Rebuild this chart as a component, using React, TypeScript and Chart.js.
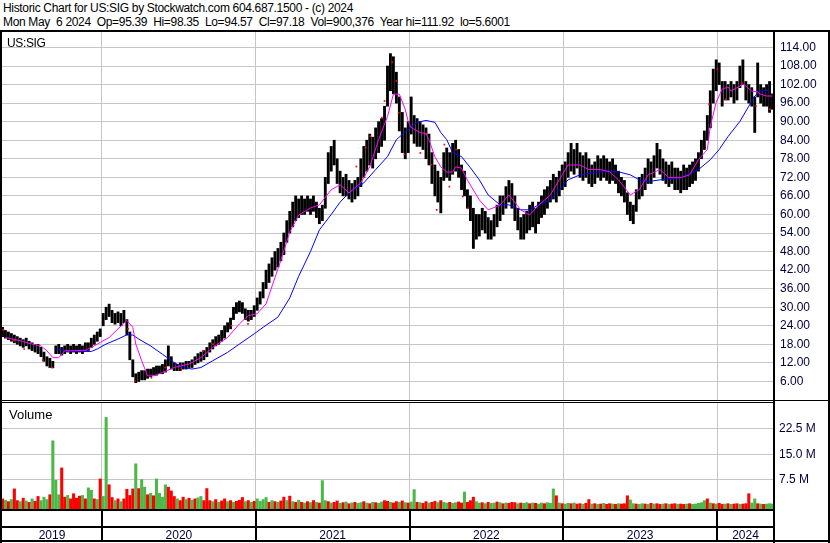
import React, { useEffect, useRef } from "react";
import { Chart, registerables } from "chart.js";

Chart.register(...registerables);

// ---------- time axis (decimal years) ----------
const PLOT_START = 2019.3496;
const PLOT_END = 2024.3707;
const FIRST_WEEK = 2019.3528;
const WEEK = 0.019262;
const yearBoundaries = [2020, 2021, 2022, 2023, 2024];
const yearLabels = ["2019", "2020", "2021", "2022", "2023", "2024"];

// ---------- axis ticks ----------
const priceTicks = [6, 12, 18, 24, 30, 36, 42, 48, 54, 60, 66, 72, 78, 84, 90, 96, 102, 108, 114];
const volumeTicks = [7.5, 15, 22.5];

// ---------- weekly price ranges (USD) ----------
const priceLow = [
  20.5, 20, 19.5, 19, 18.5, 18, 17.5, 17, 17.5, 16.5,
  16, 15.5, 15, 14, 12.5, 11, 10.5, 10.4, 15, 15,
  14.5, 15, 15.5, 15, 15.5, 15, 15.5, 15, 16, 16,
  17, 18, 19, 20.5, 24, 26, 27, 25, 24.5, 25,
  24, 25, 21, 13, 7.5, 5.6, 6, 6.5, 6.5, 7,
  7.5, 8, 8, 8.5, 8.5, 9, 11, 10, 9.5, 9.5,
  9.5, 10, 10, 10.5, 10.5, 11.5, 12, 12.5, 13, 14,
  15.5, 16.5, 17.5, 18, 19, 20, 22, 23, 26, 28,
  28.5, 28, 26, 25.5, 26, 27, 29, 31, 33, 36,
  38, 40, 42, 43, 45, 47, 51, 54, 56, 58,
  59, 60, 60, 61, 60, 61, 59, 57, 58, 62,
  70, 74, 76, 70, 67, 66, 66, 65, 64, 65,
  66, 69, 72, 74, 76, 75, 78, 80, 82, 84,
  95, 100, 99, 96, 87, 80, 78, 80, 86, 83,
  82, 82, 81, 78, 76, 70, 66, 64, 60.5, 71,
  72, 71, 73, 74, 72, 68, 66, 62, 58, 49,
  52, 53, 55, 54, 52, 52, 53, 56, 58, 60,
  62, 64, 62, 58, 55, 52, 52, 54, 55, 56,
  54, 57, 59, 60, 62, 64, 65, 64, 66, 68,
  69, 72, 74, 73, 75, 72, 71, 72, 70, 69,
  70, 72, 71, 72, 71, 70, 71, 70, 67, 66,
  64, 60, 58, 57, 61, 65, 66, 68, 70, 70,
  72, 75, 73, 71, 70, 69, 70, 68, 68, 67,
  68, 68, 69, 70, 71, 74, 78, 81, 84, 88,
  96, 100, 102, 95, 97, 97, 98, 96, 97, 101,
  102, 97, 96, 95, 86.5, 98, 96, 95, 95, 93,
  94,
];
const priceHigh = [
  23.5, 22.5, 22, 21.5, 21, 20.5, 20, 19.5, 20, 19,
  18.5, 18, 18, 17, 15.5, 14, 13.5, 12.5, 17.5, 18,
  17, 17.5, 18, 17.5, 18, 17.5, 18, 17.5, 18.5, 18.5,
  20, 21, 22, 23, 28, 30, 31, 29, 28, 28.5,
  28, 29, 26, 22, 13, 8.5, 9, 9.5, 9.5, 10,
  10, 10.5, 11, 11, 11.5, 13, 17.5, 14, 12, 11.5,
  12, 12, 12.5, 12.5, 13, 14, 15, 15.5, 16, 17,
  18.5, 19.5, 20.5, 21, 22.5, 24, 25, 26.5, 30, 31.5,
  32, 31.5, 29.5, 29, 29, 30.5, 33, 35, 38, 42,
  44, 46, 48, 49, 51, 54, 58, 61, 64, 66,
  65, 66, 65, 66, 65, 66, 64, 62, 63, 72,
  80, 82, 84, 78, 74, 72, 73, 71, 70, 71,
  72, 78, 82, 84, 86, 85, 88, 90, 91, 95,
  108, 112, 111, 106, 98, 93, 88, 90, 98, 92,
  91, 90, 89, 88, 86, 80, 76, 74, 72, 80,
  81.5, 80, 83, 84, 81, 76, 74, 68, 66, 62,
  60, 60, 62, 61, 59, 58, 60, 63, 66, 66,
  69, 71, 70, 66, 62, 59, 60, 61, 63, 64,
  62, 64, 66, 68, 69, 71, 73, 72, 74, 76,
  77, 80, 83, 81, 83, 80, 79, 80, 78, 76,
  77, 79, 78, 79, 78, 77, 78, 76, 74, 72,
  71, 67, 64, 63, 68, 72, 73, 75, 78, 77,
  79, 83, 81, 78, 77, 76, 77, 75, 75, 74,
  76, 75, 76, 77, 78, 80, 84, 87, 92, 100,
  107, 110, 109, 103, 103, 102, 103, 102, 103, 108,
  110, 103, 102, 101, 98, 109, 102, 101, 102, 103,
  99,
];

// ---------- red session markers (week index, price) ----------
const redMarkWeek = [
  0.3, 3.9, 7.3, 13.6, 16.8, 22.2, 27.8, 42.4, 44.7, 50.3, 55, 60.4, 67.7, 71.1, 77.3, 82.9,
  119.5, 122.6, 124.2, 128.1, 129, 131.6, 133, 133.8, 135.7, 141.1, 143.1, 144.8, 146.6, 149.2,
  150.9, 153.2, 155.4, 157.1, 238.6, 241.4, 244.2, 249.6, 254.4, 259.1,
];
const redMarkValue = [
  22.7, 19.2, 16.5, 12.9, 10.5, 15.9, 15.9, 23, 6.2, 7.2, 10.5, 10, 15.9, 18.1, 24, 24.6,
  75.5, 81.5, 85.3, 91.3, 96.7, 109.2, 103.2, 92.9, 79.4, 79.9, 86.1, 76.1, 61.5, 82.6,
  69, 81, 65.8, 62, 95.6, 107, 97.2, 102.7, 95, 94,
];

// ---------- moving averages (week index, value) ----------
const fastMaWeek = [
  1, 6, 9, 13, 15, 17, 19, 21, 23, 28, 30, 33, 36, 39, 42, 44, 45, 47, 49, 51,
  54, 58, 60, 63, 67, 71, 76, 80, 83, 86, 89, 94, 97, 100, 104, 107, 111, 114, 117, 121,
  124, 127, 130, 132, 134, 136, 137, 138, 141, 143, 144, 146, 148, 150, 152, 153, 155, 157, 158, 161,
  164, 168, 171, 175, 178, 181, 185, 188, 191, 195, 198, 202, 205, 208, 212, 215, 218, 222, 225, 229,
  232, 235, 238, 239, 241, 243, 245, 246, 249, 250, 251, 253, 255, 256, 258, 260,
];
const fastMaValue = [
  20.2, 19.2, 18.3, 17.5, 15.9, 13.7, 13.7, 15.9, 15.9, 16.1, 17, 18.6, 20.2, 23, 25.7, 23.5, 18.1, 12.7, 7.8, 7.8,
  8.9, 10.5, 11, 11.6, 13.7, 17, 20.2, 24.6, 27.3, 27.9, 31.1, 45.2, 54.3, 59.8, 62.1, 63.1, 68, 69.6, 67, 70.2,
  75.4, 84.2, 91.7, 98.9, 98.9, 94, 90, 88.1, 86.5, 86.1, 84.2, 78.6, 75.4, 73.7, 73.7, 75.4, 75, 71.1, 69.5, 64.7,
  61.5, 63, 66.3, 61.5, 59.8, 63, 66.3, 71.2, 76, 76, 74.5, 74.5, 73.8, 71.2, 66.3, 68, 72.8, 74.5, 71.9, 71.9,
  72.8, 77.7, 81, 88.5, 96.3, 100.5, 101.2, 99.9, 101.5, 102.2, 101.5, 99.9, 99.6, 98.9, 98.3, 98.3,
];
const slowMaWeek = [
  18, 22, 26, 30, 32, 35, 39, 42, 44, 46, 50, 54, 58, 61, 64, 67, 71, 76, 80, 85,
  88, 93, 97, 100, 104, 107, 111, 114, 117, 122, 126, 130, 133, 137, 140, 143, 146, 148, 150, 152,
  155, 158, 161, 164, 168, 171, 175, 178, 181, 185, 188, 191, 195, 202, 208, 212, 215, 218, 222, 229,
  235, 239, 242, 245, 249, 252, 254, 256, 258, 259,
];
const slowMaValue = [
  16.5, 15.9, 15.7, 15.7, 16.5, 18.1, 19.7, 21.1, 21, 19.7, 17.5, 14.8, 12.1, 10.5, 10, 10.5, 12.7, 15.4, 18.1, 21.4,
  23.5, 26.8, 33, 40, 48, 55, 60, 64, 67, 70.2, 74.5, 78.7, 84.2, 87.5, 89.8, 90.4, 89.8, 86.5, 84.2, 80,
  78.7, 75.1, 71.2, 66.3, 63.1, 63.1, 61.5, 61.5, 63.1, 64.7, 68, 71.2, 72.8, 73.8, 73.8, 72.8, 71.2, 70.6, 71.2, 71.9,
  74.5, 77.7, 81, 85.2, 90.1, 95, 98.3, 99.9, 100.2, 99.9,
];

// ---------- weekly volume (millions of shares) ----------
const volumeM = [
  2.0, 1.6, 1.2, 1.8, 4.9, 1.5, 1.2, 2.2, 1.4, 1.0,
  2.0, 1.3, 2.7, 1.5, 2.5, 1.8, 3.2, 18.9, 7.4, 3.2,
  11.0, 2.5, 3.0, 2.0, 3.5, 2.2, 2.8, 3.0, 2.0, 5.2,
  4.5, 2.0, 1.8, 7.8, 2.7, 25.7, 6.1, 2.4, 1.5, 2.0,
  1.2, 2.0, 4.8, 3.0, 4.9, 12.2, 5.0, 7.6, 5.4, 3.2,
  3.6, 2.9, 7.8, 3.6, 2.5, 6.1, 5.4, 4.3, 2.7, 2.0,
  1.5, 2.5, 1.8, 2.2, 1.6, 2.0, 2.3, 2.7, 1.5, 5.0,
  1.5, 1.2, 1.8, 1.0, 1.4, 2.0, 1.2, 1.5, 1.0, 1.3,
  1.6, 2.4, 1.2, 1.5, 1.0, 1.3, 2.0, 1.3, 1.8, 2.4,
  1.0, 1.5, 1.2, 1.0, 1.4, 2.5, 1.5, 2.8, 1.2, 1.0,
  1.6, 1.0, 0.8, 1.2, 0.9, 1.5, 1.0, 0.8, 7.3, 1.5,
  1.2, 0.8, 1.0, 1.4, 0.7, 0.9, 1.1, 0.6, 0.8, 1.0,
  0.7, 0.9, 1.2, 0.8, 0.6, 1.0, 0.9, 0.7, 1.1, 1.5,
  1.3, 1.0, 0.8, 1.2, 1.0, 1.4, 0.9, 0.8, 1.1, 4.7,
  1.0, 0.9, 0.7, 1.2, 0.8, 1.0, 1.3, 0.9, 1.5, 1.0,
  0.8, 1.0, 0.7, 0.9, 1.1, 0.8, 4.0, 1.0, 1.5, 2.5,
  1.2, 0.8, 0.9, 0.6, 1.0, 0.7, 0.8, 1.1, 0.9, 0.6,
  0.8, 0.7, 1.0, 0.9, 0.6, 0.8, 0.7, 0.9, 0.6, 0.8,
  0.7, 0.5, 0.8, 0.6, 0.9, 0.7, 4.9, 2.9, 0.8, 0.6,
  0.5, 0.7, 0.6, 0.8, 0.5, 0.6, 0.4, 0.7, 1.8, 0.5,
  0.6, 0.4, 0.5, 0.7, 0.4, 0.6, 0.5, 0.4, 0.6, 0.5,
  0.6, 2.9, 1.7, 0.6, 0.5, 0.4, 0.6, 0.5, 0.4, 0.7,
  0.5, 0.6, 0.4, 0.5, 0.6, 0.4, 0.5, 0.6, 0.4, 0.5,
  0.4, 0.5, 0.6, 0.4, 0.5, 0.7, 0.9, 1.5, 2.0, 0.8,
  0.6, 0.5, 0.7, 0.4, 0.5, 0.6, 0.4, 0.5, 0.6, 0.4,
  0.5, 0.6, 3.5, 0.8, 2.0, 0.6, 0.5, 0.4, 0.5, 0.6,
  0.5,
];
// r = down week (red), g = up week (green)
const volumeDir =
  "rgrgrrgrgr" + "grrgggrggg" + "rrgrrrrgrg" + "grgrggrrgr" + "grrrrgrggr" +
  "grggggrrrg" + "rrgrgrggrr" + "rgrgrrgrgr" + "rrgrgrgggg" + "rgrgrrgrgr" +
  "grgrgrgrgg" + "rgrrgrgrgr" + "ggrgrgrggr" + "rgrrgrgrgg" + "rgrrgrrgrg" +
  "grggrrgrrr" + "ggrgrggrgr" + "grrrgrggrg" + "rggrgggrgr" + "ggrgrrgrrg" +
  "rgrgrrgrgr" + "rrggrggrgr" + "grrgrgrrgr" + "rgrgggggrg" + "rgrrgrgrrg" +
  "rrrggrgrgg" + "g";

// ---------- styling ----------
const FONT = 'Arial, "Liberation Sans", sans-serif';
const GRID = "#c6c6c6";
const AXIS_TEXT = "#00003c";
const RED = "#ff0000";
const GREEN = "#4cb848";

const weekToYear = (i: number) => FIRST_WEEK + i * WEEK;

const yearLabelPositions = (() => {
  const edges = [PLOT_START, ...yearBoundaries, PLOT_END];
  const out: number[] = [];
  for (let k = 0; k < edges.length - 1; k++) out.push((edges[k] + edges[k + 1]) / 2);
  return out;
})();

const noPadding = (s: any) => {
  s.paddingTop = 0;
  s.paddingBottom = 0;
  s.paddingLeft = 0;
  s.paddingRight = 0;
};

const yearSeparators = {
  id: "yearSeparators",
  afterDraw(chart: any) {
    const { ctx, chartArea, scales } = chart;
    const x = scales.x;
    ctx.save();
    ctx.fillStyle = "#000";
    ctx.fillRect(0, chartArea.bottom, chartArea.right + 1, 2);
    ctx.fillRect(0, chartArea.bottom + 17, chartArea.right + 1, 2);
    for (const b of yearBoundaries) {
      const px = Math.round(x.getPixelForValue(b));
      ctx.fillRect(px - 1, chartArea.bottom, 2, chart.height - chartArea.bottom);
    }
    ctx.restore();
  },
};

function PriceChart() {
  const ref = useRef<HTMLCanvasElement>(null);
  useEffect(() => {
    if (!ref.current) return;
    const chart = new Chart(ref.current, {
      type: "bar",
      data: {
        datasets: [
          {
            type: "line",
            data: fastMaWeek.map((w, i) => ({ x: weekToYear(w), y: fastMaValue[i] })),
            borderColor: "#ff00ff",
            borderWidth: 1,
            pointRadius: 0,
            tension: 0,
          } as any,
          {
            type: "line",
            data: slowMaWeek.map((w, i) => ({ x: weekToYear(w), y: slowMaValue[i] })),
            borderColor: "#0000ff",
            borderWidth: 1,
            pointRadius: 0,
            tension: 0,
          } as any,
          {
            type: "scatter",
            data: redMarkWeek.map((w, i) => ({ x: weekToYear(w), y: redMarkValue[i] })),
            pointStyle: "rect",
            pointRadius: 1.2,
            pointBorderWidth: 0,
            backgroundColor: RED,
            borderWidth: 0,
          } as any,
          {
            type: "bar",
            data: priceLow.map((lo, i) => ({ x: weekToYear(i), y: [lo, priceHigh[i]] })),
            backgroundColor: "#000000",
            barThickness: 2.2,
          } as any,
        ],
      },
      options: {
        animation: false,
        responsive: false,
        events: [],
        layout: { autoPadding: false, padding: { left: 2, right: 0, top: 0, bottom: 0 } },
        plugins: { legend: { display: false }, tooltip: { enabled: false } },
        scales: {
          x: {
            type: "linear",
            min: PLOT_START,
            max: PLOT_END,
            offset: false,
            grid: { offset: false, color: GRID, drawTicks: false },
            border: { display: false },
            ticks: { display: false },
            afterBuildTicks: (s: any) => {
              s.ticks = yearBoundaries.map((v) => ({ value: v }));
            },
            afterFit: (s: any) => {
              s.height = 0;
              noPadding(s);
            },
          },
          y: {
            position: "right",
            min: 0,
            max: 119,
            grid: { color: GRID, drawTicks: false },
            border: { display: false },
            ticks: {
              padding: 6,
              color: AXIS_TEXT,
              font: { family: FONT, size: 12 },
              callback: (v: any) => Number(v).toFixed(2),
            },
            afterBuildTicks: (s: any) => {
              s.ticks = priceTicks.map((v) => ({ value: v }));
            },
            afterFit: (s: any) => {
              s.width = 56;
              noPadding(s);
            },
          },
        },
      } as any,
    });
    return () => chart.destroy();
  }, []);
  return <canvas ref={ref} width={830} height={368} style={{ position: "absolute", left: 0, top: 32 }} />;
}

function VolumeChart() {
  const ref = useRef<HTMLCanvasElement>(null);
  useEffect(() => {
    if (!ref.current) return;
    const chart = new Chart(ref.current, {
      type: "bar",
      data: {
        datasets: [
          {
            data: volumeM.map((v, i) => ({ x: weekToYear(i), y: v })),
            backgroundColor: volumeM.map((_, i) => (volumeDir[i] === "r" ? RED : GREEN)),
            base: -0.95,
            barThickness: 2.4,
          } as any,
        ],
      },
      options: {
        animation: false,
        responsive: false,
        events: [],
        layout: { autoPadding: false, padding: { left: 2, right: 0, top: 0, bottom: 0 } },
        plugins: { legend: { display: false }, tooltip: { enabled: false } },
        scales: {
          x: {
            type: "linear",
            min: PLOT_START,
            max: PLOT_END,
            offset: false,
            grid: {
              offset: false,
              drawTicks: false,
              color: (c: any) => (Number.isInteger(c.tick?.value) ? GRID : "rgba(0,0,0,0)"),
            },
            border: { display: false },
            ticks: {
              autoSkip: false,
              maxRotation: 0,
              padding: 19,
              color: AXIS_TEXT,
              font: { family: FONT, size: 12 },
              callback: (v: any) => {
                const k = yearLabelPositions.findIndex((p) => Math.abs(p - v) < 1e-6);
                return k >= 0 ? yearLabels[k] : "";
              },
            },
            afterBuildTicks: (s: any) => {
              s.ticks = [...yearBoundaries, ...yearLabelPositions].sort((a, b) => a - b).map((v) => ({ value: v }));
            },
            afterFit: (s: any) => {
              s.height = 32;
              noPadding(s);
            },
          },
          y: {
            position: "right",
            min: -0.95,
            max: 29.9,
            grid: { color: GRID, drawTicks: false },
            border: { display: false },
            ticks: {
              padding: 5,
              color: AXIS_TEXT,
              font: { family: FONT, size: 12 },
              callback: (v: any) => `${Number(v).toFixed(1)} M`,
            },
            afterBuildTicks: (s: any) => {
              s.ticks = volumeTicks.map((v) => ({ value: v }));
            },
            afterFit: (s: any) => {
              s.width = 56;
              noPadding(s);
            },
          },
        },
      } as any,
      plugins: [yearSeparators],
    });
    return () => chart.destroy();
  }, []);
  return <canvas ref={ref} width={830} height={138} style={{ position: "absolute", left: 0, top: 403 }} />;
}

const line = (left: number, top: number, width: number, height: number): React.CSSProperties => ({
  position: "absolute",
  left,
  top,
  width,
  height,
  background: "#000",
});

export default function App() {
  return (
    <div
      style={{
        position: "absolute",
        left: 0,
        top: 0,
        width: 830,
        height: 543,
        background: "#fff",
        overflow: "hidden",
        fontFamily: FONT,
      }}
    >
      <div
        style={{
          position: "absolute",
          left: 3,
          top: 1,
          fontSize: 12,
          lineHeight: "14px",
          letterSpacing: "-0.33px",
          whiteSpace: "pre",
          color: "#000",
        }}
      >
        {"Historic Chart for US:SIG by Stockwatch.com 604.687.1500 - (c) 2024\nMon May  6 2024  Op=95.39  Hi=98.35  Lo=94.57  Cl=97.18  Vol=900,376  Year hi=111.92  lo=5.6001"}
      </div>
      <PriceChart />
      <VolumeChart />
      <div style={line(0, 30, 830, 2)} />
      <div style={line(0, 400, 830, 1)} />
      <div style={line(0, 402, 774, 1)} />
      <div style={line(0, 30, 2, 513)} />
      <div style={line(773, 30, 2, 513)} />
      <div style={line(828, 30, 2, 513)} />
      <div style={line(0, 540, 830, 2)} />
      <div style={{ position: "absolute", left: 7, top: 36, fontSize: 12, lineHeight: "14px", letterSpacing: "-0.35px", color: "#000" }}>
        US:SIG
      </div>
      <div style={{ position: "absolute", left: 9, top: 407, fontSize: 13, lineHeight: "15px", color: "#000" }}>Volume</div>
    </div>
  );
}
